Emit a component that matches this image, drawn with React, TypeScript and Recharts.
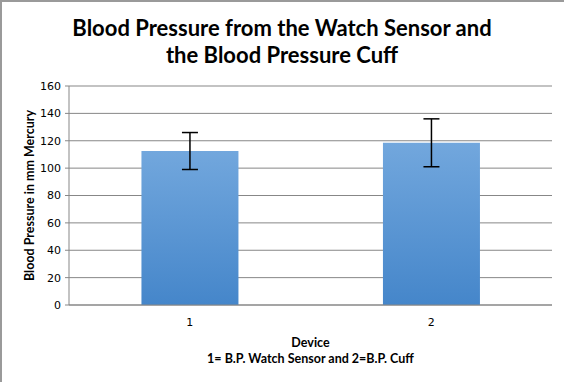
import React from "react";
import { BarChart, Bar, XAxis, YAxis, CartesianGrid, ErrorBar } from "recharts";

const categories = ["1", "2"];
const meanValues = [112.5, 118.5];
const errorValues = [13.5, 17.5];
const yTicks = [0, 20, 40, 60, 80, 100, 120, 140, 160];

const data = categories.map((c, i) => ({ device: c, bp: meanValues[i], err: errorValues[i] }));

const GRID = "#878787";

export default function App() {
  return (
    <div style={{ position: "absolute", left: 0, top: 0, width: 564, height: 382, background: "#fff" }}>
      <div
        style={{
          position: "absolute",
          left: 0,
          top: 14,
          width: 564,
          textAlign: "center",
          fontFamily: "Lato, 'Open Sans', sans-serif",
          fontWeight: 700,
          fontSize: 22,
          lineHeight: "27px",
          color: "#000",
        }}
      >
        Blood Pressure from the Watch Sensor and
        <br />
        the Blood Pressure Cuff
      </div>
      <BarChart
        width={564}
        height={382}
        data={data}
        margin={{ top: 86, right: 12, left: 0, bottom: 0 }}
        barCategoryGap="30%"
      >
        <defs>
          <linearGradient id="barGrad" x1="0" y1="0" x2="0" y2="1">
            <stop offset="0%" stopColor="#72a7dd" />
            <stop offset="100%" stopColor="#4586ca" />
          </linearGradient>
        </defs>
        <CartesianGrid vertical={false} stroke={GRID} strokeWidth={1} />
        <XAxis
          xAxisId="t"
          type="number"
          domain={[0, 2]}
          ticks={[0, 1, 2]}
          tick={false}
          axisLine={false}
          tickLine={{ stroke: GRID }}
          tickSize={5}
          height={0}
        />
        <XAxis
          xAxisId="cat"
          dataKey="device"
          axisLine={{ stroke: GRID }}
          tickLine={false}
          tickSize={8}
          tickMargin={5}
          height={77}
          tick={{ fill: "#000", fontSize: 11, fontFamily: "'DejaVu Sans', sans-serif" }}
        />
        <YAxis
          domain={[0, 160]}
          ticks={yTicks}
          width={69}
          axisLine={{ stroke: GRID }}
          tickLine={{ stroke: GRID }}
          tickSize={4}
          tickMargin={4}
          interval={0}
          tick={{ fill: "#000", fontSize: 11, fontFamily: "'DejaVu Sans', sans-serif" }}
          label={{
            value: "Blood Pressure in mm Mercury",
            angle: -90,
            position: "insideLeft",
            offset: 30,
            style: { textAnchor: "middle", fontWeight: 700, fontSize: 12.5, fill: "#000", fontFamily: "Lato, sans-serif" },
          }}
        />
        <Bar dataKey="bp" xAxisId="cat" fill="url(#barGrad)" isAnimationActive={false}>
          <ErrorBar dataKey="err" width={8} stroke="#000" strokeWidth={1.5} isAnimationActive={false} />
        </Bar>
      </BarChart>
      <div
        style={{
          position: "absolute",
          left: 69,
          width: 483,
          top: 335,
          textAlign: "center",
          fontFamily: "Lato, sans-serif",
          fontWeight: 700,
          fontSize: 12.5,
          lineHeight: "16px",
          color: "#000",
        }}
      >
        Device
        <br />
        1= B.P. Watch Sensor and 2=B.P. Cuff
      </div>
      <div
        style={{
          position: "absolute",
          left: 0,
          top: 0,
          width: 564,
          height: 382,
          boxSizing: "border-box",
          borderLeft: "2px solid #9a9a9a",
          borderTop: "2px solid #9a9a9a",
          pointerEvents: "none",
        }}
      />
    </div>
  );
}
